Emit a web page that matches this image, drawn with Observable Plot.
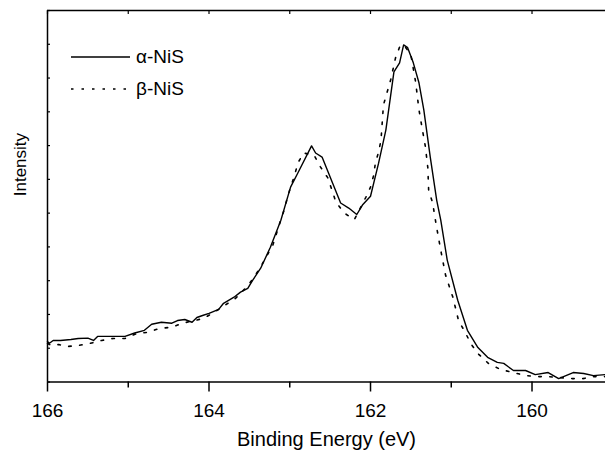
<!DOCTYPE html>
<html><head><meta charset="utf-8">
<script src="https://cdn.jsdelivr.net/npm/d3@7"></script>
<script src="https://cdn.jsdelivr.net/npm/@observablehq/plot@0.6"></script>
<style>
body{margin:0;background:#fff;}
#wrap{position:relative;width:605px;height:457px;font-family:"Liberation Sans",Arial,sans-serif;}
.row{position:absolute;left:71px;height:30px;display:flex;align-items:center;font-size:19px;color:#000;}
.row svg{margin-right:6px;display:block;}
</style></head><body>
<div id="wrap">
  <div class="row" style="top:42px"><svg width="59" height="6"><line x1="0" x2="59" y1="3" y2="3" stroke="#000" stroke-width="1.4"/></svg><span>α-NiS</span></div>
  <div class="row" style="top:74px"><svg width="59" height="6"><line x1="0" x2="59" y1="3" y2="3" stroke="#000" stroke-width="1.5" stroke-dasharray="2.5,8"/></svg><span>β-NiS</span></div>
</div>
<script>
// Binding energy (eV) and intensity (a.u.)
const alphaEnergy = [166.00,165.98,165.93,165.84,165.71,165.62,165.50,165.43,165.38,165.22,165.04,164.92,164.80,164.71,164.59,164.46,164.39,164.30,164.21,164.15,164.08,164.00,163.94,163.88,163.82,163.69,163.61,163.52,163.46,163.36,163.24,163.11,162.99,162.90,162.73,162.68,162.60,162.37,162.27,162.17,162.10,162.00,161.90,161.81,161.71,161.64,161.59,161.54,161.47,161.40,161.34,161.26,161.18,161.13,161.05,160.92,160.80,160.67,160.55,160.43,160.35,160.23,160.08,159.96,159.80,159.67,159.49,159.36,159.24,159.09];
const alphaIntensity = [1.20,1.14,1.23,1.23,1.26,1.29,1.30,1.23,1.35,1.35,1.35,1.45,1.53,1.71,1.77,1.74,1.82,1.85,1.77,1.91,1.97,2.03,2.09,2.15,2.33,2.51,2.66,2.77,3.01,3.37,3.99,4.79,5.77,6.19,6.99,6.78,6.66,5.30,5.15,4.96,5.24,5.50,6.48,7.46,9.18,9.45,9.98,9.90,9.45,8.86,8.06,6.66,5.38,4.79,3.61,2.42,1.53,1.02,0.73,0.58,0.55,0.34,0.34,0.22,0.28,0.10,0.28,0.25,0.19,0.22];
const betaEnergy = [166.00,165.95,165.86,165.76,165.62,165.48,165.33,165.19,165.04,164.89,164.76,164.61,164.46,164.33,164.18,164.07,163.94,163.67,163.54,163.46,163.37,163.21,163.12,163.07,163.03,162.99,162.94,162.90,162.83,162.70,162.62,162.53,162.48,162.43,162.33,162.20,162.06,162.00,161.96,161.94,161.90,161.87,161.84,161.75,161.69,161.63,161.57,161.50,161.44,161.40,161.35,161.32,161.29,161.28,161.23,161.19,161.13,161.07,160.98,160.91,160.82,160.76,160.66,160.54,160.39,160.23,160.08,159.93,159.80,159.65,159.50,159.37,159.24,159.09];
const betaIntensity = [1.14,1.08,1.11,1.05,1.08,1.14,1.23,1.29,1.29,1.44,1.47,1.59,1.62,1.74,1.82,1.88,2.06,2.48,2.80,3.04,3.37,4.05,4.73,5.09,5.45,5.77,6.12,6.48,6.78,6.72,6.37,6.05,5.70,5.34,5.01,4.81,5.46,5.77,6.13,6.48,6.81,7.16,8.20,8.95,9.60,9.98,9.92,9.69,8.86,8.06,7.37,6.96,6.34,5.68,5.30,4.70,3.90,3.16,2.51,1.82,1.44,1.14,0.82,0.55,0.37,0.28,0.19,0.16,0.16,0.13,0.10,0.10,0.16,0.16];
const majorTicks = [166,164,162,160];
const minorTicks = [165,163,161,159];
const xDomain = [166,159.09];
const yDomain = [0,11];

const alpha = alphaEnergy.map((e,i)=>({energy:e,intensity:alphaIntensity[i]}));
const beta = betaEnergy.map((e,i)=>({energy:e,intensity:betaIntensity[i]}));

const font = '"Liberation Sans",Arial,sans-serif';
const chart = Plot.plot({
  width:605, height:457,
  marginTop:10, marginLeft:47, marginRight:0, marginBottom:75.5,
  style:{fontFamily:font, background:"white", color:"black", overflow:"visible"},
  x:{domain:xDomain, label:null},
  y:{domain:yDomain, label:null},
  marks:[
    Plot.line(beta,{x:"energy",y:"intensity",stroke:"black",strokeWidth:1.6,strokeDasharray:"2.5,8.5"}),
    Plot.line(alpha,{x:"energy",y:"intensity",stroke:"black",strokeWidth:1.4}),
    Plot.ruleY([yDomain[0]],{stroke:"black",strokeWidth:1.5}),
    Plot.ruleY([yDomain[1]],{stroke:"black",strokeWidth:1.3}),
    Plot.ruleX([xDomain[0]],{stroke:"black",strokeWidth:1.5}),
    Plot.axisX({anchor:"bottom",ticks:majorTicks,tickSize:10,tickPadding:11,tickFormat:d=>String(d),fontSize:19,strokeWidth:1.5,label:null}),
    Plot.axisX({anchor:"bottom",ticks:minorTicks,tickSize:6,tickFormat:()=>"",strokeWidth:1.5,label:null}),
    Plot.axisX({anchor:"top",ticks:majorTicks.concat(minorTicks),tickSize:-3,tickFormat:()=>"",strokeWidth:1.2,label:null}),
    Plot.axisY({anchor:"left",ticks:d3.range(0,12),tickSize:-3,tickFormat:()=>"",strokeWidth:1.2,label:null}),
    Plot.text(["Binding Energy (eV)"],{text:d=>d,frameAnchor:"bottom",dy:64,fontSize:20,fill:"black"}),
    Plot.text(["Intensity"],{text:d=>d,frameAnchor:"left",rotate:-90,dx:-27,fontSize:17,fill:"black"})
  ]
});
document.getElementById("wrap").prepend(chart);
chart.style.display="block";
</script>
</body></html>
